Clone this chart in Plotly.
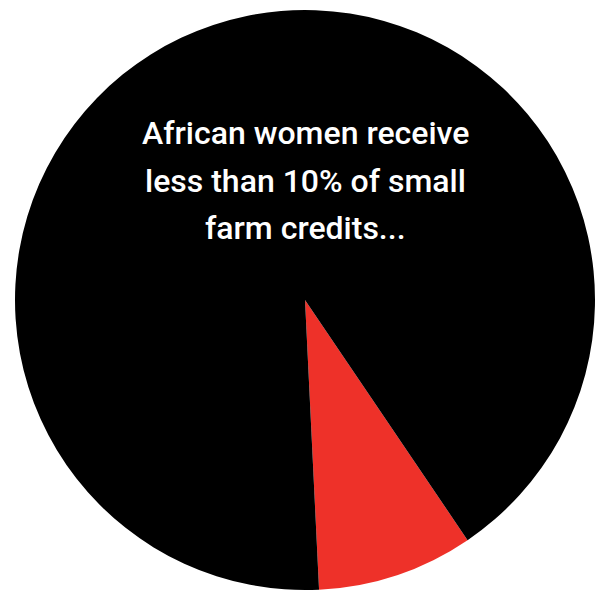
import plotly.graph_objects as go

labels = ["African women", "Others"]
values = [8.7, 91.3]
colors = ["#EE3129", "#000000"]
caption_lines = ["African women receive", "less than 10% of small", "farm credits..."]

W, H = 595, 594
cx, cy, r = 305, 300, 290
line_y = [133, 181, 228]

fig = go.Figure(go.Pie(
    labels=labels,
    values=values,
    sort=False,
    direction="clockwise",
    rotation=145.9,
    marker=dict(colors=colors, line=dict(width=0)),
    textinfo="none",
    hoverinfo="none",
    showlegend=False,
    domain=dict(x=[(cx - r) / W, 1.0], y=[(H - (cy + r)) / H, (H - (cy - r)) / H]),
))

for txt, yp in zip(caption_lines, line_y):
    fig.add_annotation(
        text=txt,
        x=306 / W, y=1 - yp / H, xref="paper", yref="paper",
        xanchor="center", yanchor="middle",
        showarrow=False,
        font=dict(family="Roboto", size=32, color="white", weight=500),
        align="center",
    )

fig.update_layout(
    width=W, height=H,
    margin=dict(l=0, r=0, t=0, b=0),
    paper_bgcolor="white", plot_bgcolor="white",
)

fig.write_html("out.html")
